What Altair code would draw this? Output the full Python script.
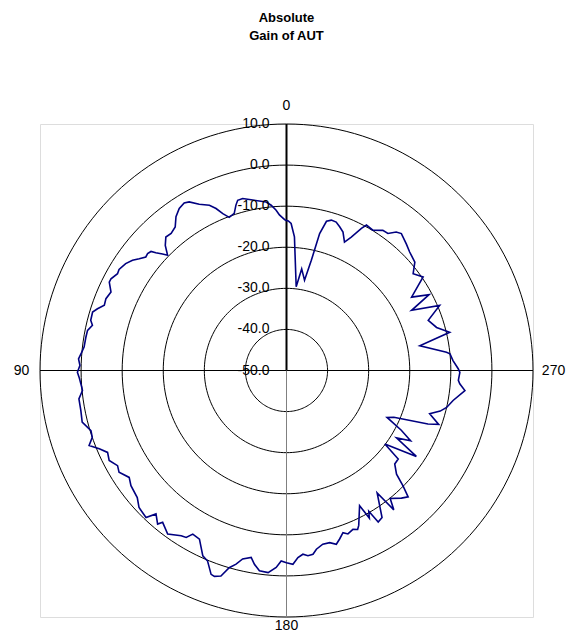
import altair as alt
import pandas as pd

# Measured antenna pattern (angle in degrees, counter-clockwise from top; gain in dB)
angles = [0.5, 2.6, 3.7, 5.3, 6.9, 11.2, 14.3, 16.0, 17.0, 18.4, 20.5, 22.1, 23.5, 25.0, 27.7,
          30.0, 31.4, 33.5, 35.7, 37.8, 40.1, 42.1, 44.1, 45.9, 46.8, 48.0, 48.7, 49.9, 51.1, 52.8,
          54.4, 56.4, 58.9, 60.2, 62.4, 63.5, 65.9, 68.3, 70.3, 71.9, 73.2, 75.6, 76.9, 78.6, 80.6,
          83.4, 85.4, 86.8, 88.6, 90.5, 91.9, 94.7, 95.6, 97.8, 101.0, 104.2, 107.1, 109.0, 110.8,
          112.7, 114.6, 116.9, 119.4, 121.3, 124.2, 126.5, 130.4, 132.9, 136.3, 137.7, 140.0, 140.8,
          144.0, 147.5, 149.0, 150.2, 152.7, 155.7, 157.5, 159.7, 160.7, 162.3, 163.8, 165.4, 166.9,
          169.3, 170.6, 172.3, 174.8, 177.0, 178.4, 180.0, 181.9, 183.5, 185.1, 186.6, 188.2, 189.5,
          191.8, 194.1, 196.0, 197.5, 199.2, 200.6, 202.7, 204.1, 205.0, 208.4, 209.3, 210.3, 211.2,
          213.0, 216.5, 217.6, 219.0, 222.0, 223.9, 225.3, 226.7, 229.2, 231.6, 233.2, 236.5, 238.5,
          240.5, 242.5, 245.0, 246.5, 249.3, 250.5, 253.2, 255.2, 257.0, 259.8, 263.6, 265.6, 266.7,
          269.4, 270.6, 273.4, 275.8, 276.5, 280.5, 283.2, 286.0, 289.5, 293.0, 295.7, 298.0, 300.4,
          304.4, 307.4, 310.2, 313.9, 316.5, 320.0, 321.6, 323.5, 325.5, 328.4, 331.2, 332.2, 334.1,
          335.7, 337.8, 339.7, 341.5, 343.4, 345.0, 346.4, 347.3, 348.7, 351.5, 353.4, 356.6, 358.2,
          359.3]
gains = [-13.4, -12.1, -10.9, -9.6, -8.7, -7.7, -6.8, -6.9, -7.9, -9.7, -10.2, -8.8, -7.0, -5.6, -4.3,
         -2.6, -2.2, -2.7, -3.9, -5.8, -6.4, -6.2, -7.6, -9.7, -8.6, -7.2, -6.1, -5.8, -6.0, -5.0,
         -3.9, -3.0, -2.4, -2.6, -1.8, -1.8, -3.2, -2.7, -2.9, -1.6, -0.7, -0.8, -1.5, -0.6, -0.5,
         -0.4, 0.2, 0.7, 0.3, 0.9, 0.5, 0.0, -0.1, 1.0, 1.0, 1.3, -0.2, 0.0, 1.4,
         -0.6, -2.1, -1.6, -2.8, -2.3, -3.7, -2.9, -2.3, -1.0, -0.5, -2.8, -1.2, -2.3,
         -0.8, -2.3, -2.6, -4.1, -3.8, -0.5, 0.2, 2.9, 3.1, 2.5, 0.0, -1.3, -2.9,
         -3.7, -2.2, -0.8, -0.6, -2.0, -3.6, -3.2, -2.8, -4.4, -5.1, -4.6, -4.8, -5.9,
         -6.8, -6.8, -6.0, -7.0, -8.2, -7.5, -8.1, -7.6, -8.4, -12.6, -8.8, -10.3, -6.9,
         -7.3, -12.9, -7.2, -9.9, -8.2, -7.3, -10.1, -13.2, -15.2, -15.3, -20.1, -12.1, -18.6,
         -15.3, -18.5, -23.0, -21.5, -13.2, -10.7, -13.6, -11.3, -10.0, -8.8, -6.3, -7.7, -8.1,
         -7.8, -8.2, -9.4, -10.0, -10.8, -17.0, -9.2, -12.0, -13.4, -9.5, -16.2, -10.7, -14.7,
         -9.7, -11.2, -9.1, -8.4, -7.6, -6.5, -7.0, -8.5, -8.6, -9.9, -9.6, -10.9, -13.9,
         -15.7, -13.6, -12.7, -11.9, -11.8, -12.4, -15.7, -22.5, -27.6, -25.0, -29.5, -17.4, -14.2,
         -13.6]

ring_levels = [-40, -30, -20, -10, 0, 10]
value_labels = [-50, -40, -30, -20, -10, 0, 10]
spoke_angles = [0, 90, 180, 270]
spoke_labels = ["0", "90", "180", "270"]
spoke_label_r = [64.3, 64.5, 62.1, 65.0]

R0 = -50      # gain at the centre
RMAX = 60     # outer ring radius in gain units (10 dB)

FONT = "Liberation Sans"

# ---- tables ----
curve = pd.DataFrame({"angle": angles + [angles[0]], "gain": gains + [gains[0]]})
curve["i"] = range(len(curve))

ring_rows = []
for lv in ring_levels:
    for k in range(0, 361, 2):
        ring_rows.append({"level": lv, "angle": k, "gain": lv})
rings = pd.DataFrame(ring_rows)

spokes = pd.DataFrame({"angle": spoke_angles, "label": spoke_labels, "lr": spoke_label_r,
                       "part": ["top", "side", "bottom", "side"]})
vlabels = pd.DataFrame({"gain": value_labels,
                        "text": [f"{v:.1f}" for v in value_labels]})

polar_x = f"-(datum.gain - ({R0}))*sin(datum.angle*PI/180)"
polar_y = f"(datum.gain - ({R0}))*cos(datum.angle*PI/180)"

xs = alt.Scale(domain=[-RMAX, RMAX], nice=False, zero=False)
ys = alt.Scale(domain=[-RMAX, RMAX], nice=False, zero=False)

ring_layer = alt.Chart(rings).transform_calculate(
    x=polar_x, y=polar_y
).mark_line(color="black", strokeWidth=1).encode(
    x=alt.X("x:Q", scale=xs, axis=None),
    y=alt.Y("y:Q", scale=ys, axis=None),
    detail="level:N",
    order="angle:Q",
)

spoke_base = alt.Chart(spokes).transform_calculate(
    x=f"-{RMAX}*sin(datum.angle*PI/180)",
    y=f"{RMAX}*cos(datum.angle*PI/180)",
    x0="0", y0="0",
)
spoke_side = spoke_base.transform_filter("datum.part == 'side'").mark_rule(
    color="black", strokeWidth=1).encode(
    x=alt.X("x0:Q", scale=xs, axis=None), y=alt.Y("y0:Q", scale=ys, axis=None),
    x2="x:Q", y2="y:Q")
spoke_bottom = spoke_base.transform_filter("datum.part == 'bottom'").mark_rule(
    color="#808080", strokeWidth=1).encode(
    x=alt.X("x0:Q", scale=xs, axis=None), y=alt.Y("y0:Q", scale=ys, axis=None),
    x2="x:Q", y2="y:Q")
spoke_top = spoke_base.transform_filter("datum.part == 'top'").mark_rule(
    color="black", strokeWidth=2).encode(
    x=alt.X("x0:Q", scale=xs, axis=None), y=alt.Y("y0:Q", scale=ys, axis=None),
    x2="x:Q", y2="y:Q")

curve_layer = alt.Chart(curve).transform_calculate(
    x=polar_x, y=polar_y
).mark_line(color="#000080", strokeWidth=1.6).encode(
    x=alt.X("x:Q", scale=xs, axis=None),
    y=alt.Y("y:Q", scale=ys, axis=None),
    order="i:Q",
)

vlabel_layer = alt.Chart(vlabels).transform_calculate(
    x="0", y=f"datum.gain - ({R0})"
).mark_text(align="right", baseline="middle", dx=-17, font=FONT, fontSize=14,
            color="black").encode(
    x=alt.X("x:Q", scale=xs, axis=None),
    y=alt.Y("y:Q", scale=ys, axis=None),
    text="text:N",
)

alabel_layer = alt.Chart(spokes).transform_calculate(
    x="-datum.lr*sin(datum.angle*PI/180)",
    y="datum.lr*cos(datum.angle*PI/180)",
).mark_text(align="center", baseline="middle", font=FONT, fontSize=14,
            color="black").encode(
    x=alt.X("x:Q", scale=xs, axis=None),
    y=alt.Y("y:Q", scale=ys, axis=None),
    text="label:N",
)

chart = alt.layer(
    ring_layer, spoke_side, spoke_bottom, spoke_top, curve_layer, vlabel_layer, alabel_layer
).properties(
    width=493, height=493,
    padding={"left": 32, "top": 116, "right": 35, "bottom": 17},
    autosize=alt.AutoSizeParams(type="none"),
    title=alt.Title(["Absolute", "Gain of AUT"], font=FONT, fontSize=13, fontWeight="bold",
                    anchor="middle", frame="group", offset=56, lineHeight=18, color="black"),
).configure_view(
    stroke="#8a8a8a", strokeWidth=1.5
).configure(background="white")

chart.save("out.html", embed_options={"renderer": "svg", "actions": False})
